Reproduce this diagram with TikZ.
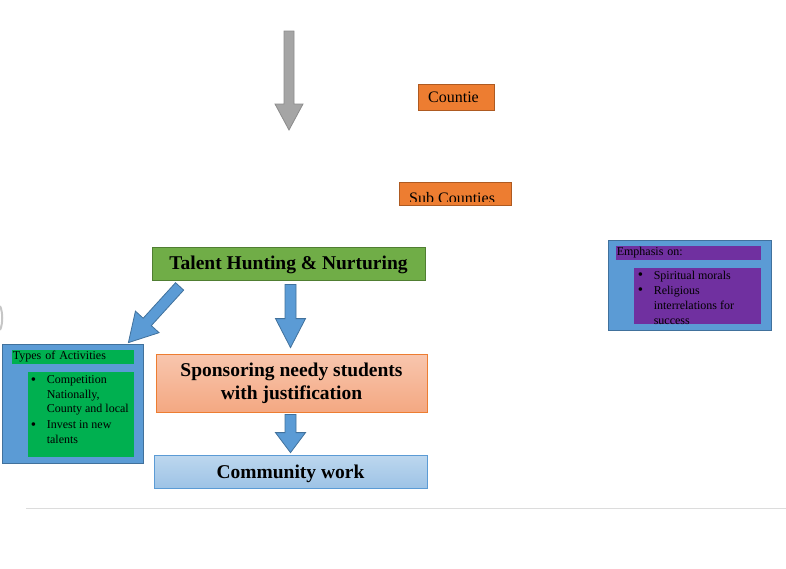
\documentclass[tikz,border=0pt]{standalone}
\usepackage{fontspec}
\setmainfont{Liberation Serif}
\usetikzlibrary{calc,positioning}

\definecolor{orangefill}{HTML}{ED7D31}
\definecolor{orangeedge}{HTML}{AE5A21}
\definecolor{greenfill}{HTML}{70AD47}
\definecolor{greenedge}{HTML}{507E32}
\definecolor{bluefill}{HTML}{5B9BD5}
\definecolor{blueedge}{HTML}{41719C}
\definecolor{bargreen}{HTML}{00B050}
\definecolor{barpurple}{HTML}{7030A0}
\definecolor{sponsortop}{HTML}{F8C6AE}
\definecolor{sponsorbot}{HTML}{F4A882}
\definecolor{commtop}{HTML}{BDD7EE}
\definecolor{commbot}{HTML}{9DC3E6}
\definecolor{arrowgray}{HTML}{A5A5A5}
\definecolor{arrowgrayedge}{HTML}{8C8C8C}
\definecolor{rulegray}{HTML}{DCDCDC}

\newcommand{\bul}{\makebox[16pt][l]{\raisebox{-0.6pt}{\fontsize{15}{0}\selectfont\textbullet}}}
\newcommand{\ind}{\hspace*{16pt}}
% block arrow: style, start, tip, shaft half width, head half width, head length
\newcommand{\fatarrow}[6]{%
  \coordinate (fa-base) at ($(#3)!#6!(#2)$);
  \path[#1] ($(#2)!#4!90:(#3)$) -- ($(fa-base)!#4!90:(#3)$) -- ($(fa-base)!#5!90:(#3)$) -- (#3)
    -- ($(fa-base)!#5!-90:(#3)$) -- ($(fa-base)!#4!-90:(#3)$) -- ($(#2)!#4!-90:(#3)$) -- cycle;}

\begin{document}
\begin{tikzpicture}[x=1pt, y=-1pt,
    box/.style={draw, line width=0.8pt, inner sep=0pt},
    bigtext/.style={font=\bfseries\fontsize{19.5}{23}\selectfont},
    smalltext/.style={font=\fontsize{12}{14.5}\selectfont, inner sep=0pt, align=left},
    headbar/.style={font=\fontsize{12}{14}\selectfont, minimum height=14pt, inner xsep=1pt, inner ysep=0pt, align=left, anchor=north west},
    blockarrow/.style={fill=bluefill, draw=blueedge, line width=0.8pt},
    grayarrow/.style={fill=arrowgray, draw=arrowgrayedge, line width=0.8pt}]

    \useasboundingbox (0,0) rectangle (786,568);

    \coordinate (gtop) at (289,31);
    \coordinate (gtip) at (289,130);
    \fatarrow{grayarrow}{gtop}{gtip}{5pt}{14pt}{26pt}

    \node [box, draw=orangeedge, fill=orangefill, minimum width=76pt, minimum height=26pt, font=\fontsize{16}{18}\selectfont] (countie) at (456,97) {Countie\hspace*{5pt}};

    \node [box, draw=orangeedge, fill=orangefill, minimum width=112pt, minimum height=23pt] (subcounties) at (455,193.5) {};
    \begin{scope}
      \clip (subcounties.north west) rectangle ([yshift=4pt]subcounties.south east);
      \node [font=\fontsize{16}{18}\selectfont, anchor=base west, inner sep=0pt] (subtext) at (409,203.5) {Sub Counties};
    \end{scope}

    \node [box, draw=greenedge, fill=greenfill, minimum width=273pt, minimum height=33pt, bigtext, text height=14pt, text depth=2pt] (talent) at (288.5,263.5) {Talent Hunting \& Nurturing};
    \node [box, draw=orangefill, top color=sponsortop, bottom color=sponsorbot, minimum width=271pt, minimum height=58pt, bigtext, align=center] (sponsor) at (291.5,383) {Sponsoring needy students\\with justification};
    \node [box, draw=bluefill, top color=commtop, bottom color=commbot, minimum width=273pt, minimum height=33pt, bigtext, text height=14pt, text depth=1pt] (community) at (290.5,471.5) {Community work};

    \node [box, draw=blueedge, fill=bluefill, minimum width=141pt, minimum height=119pt] (types) at (72.5,403.5) {};
    \node [headbar, fill=bargreen, text width=120pt] (typeshead) at ([shift={(10,6)}]types.north west) {Types of Activities};
    \node [fill=bargreen, minimum width=106pt, minimum height=85pt, anchor=north west, inner sep=0pt] (typeslist) at ([shift={(26,28)}]types.north west) {};
    \node [smalltext, anchor=north west] (typestext) at ([shift={(3,4)}]typeslist.north west) {\bul Competition\\\ind Nationally,\\\ind County and local\\[1.5pt]\bul Invest in new\\\ind talents};

    \node [box, draw=blueedge, fill=bluefill, minimum width=163pt, minimum height=90pt] (emph) at (689.5,285) {};
    \node [headbar, fill=barpurple, text width=143pt] (emphhead) at ([shift={(8,6)}]emph.north west) {Emphasis on:};
    \node [fill=barpurple, minimum width=127pt, minimum height=56pt, anchor=north west, inner sep=0pt] (emphlist) at ([shift={(26,28)}]emph.north west) {};
    \node [smalltext, font=\fontsize{12}{15}\selectfont, anchor=north west] (emphtext) at ([shift={(4,3)}]emphlist.north west) {\bul Spiritual morals\\\bul Religious\\\ind interrelations for\\\ind success};

    \coordinate (d1s) at ($(talent.south west)+(28,6)$);
    \coordinate (d1e) at ($(types.north east)+(-15,-1)$);
    \fatarrow{blockarrow}{d1s}{d1e}{5.5pt}{16pt}{28pt}

    \coordinate (a1s) at ($(talent.south)+(2,4)$);
    \coordinate (a1e) at ($(sponsor.north)+(-1,-6)$);
    \fatarrow{blockarrow}{a1s}{a1e}{5.5pt}{15pt}{29pt}

    \coordinate (a2s) at ($(sponsor.south)+(-1,2)$);
    \coordinate (a2e) at ($(community.north)+(0,-2)$);
    \fatarrow{blockarrow}{a2s}{a2e}{5.5pt}{15pt}{20pt}

    \draw [rulegray, line width=1pt] (26,508) -- (786,508);
    \draw [gray!45, line width=2pt] (0,306) .. controls (3,312) and (3,324) .. (0,330);

\end{tikzpicture}
\end{document}
